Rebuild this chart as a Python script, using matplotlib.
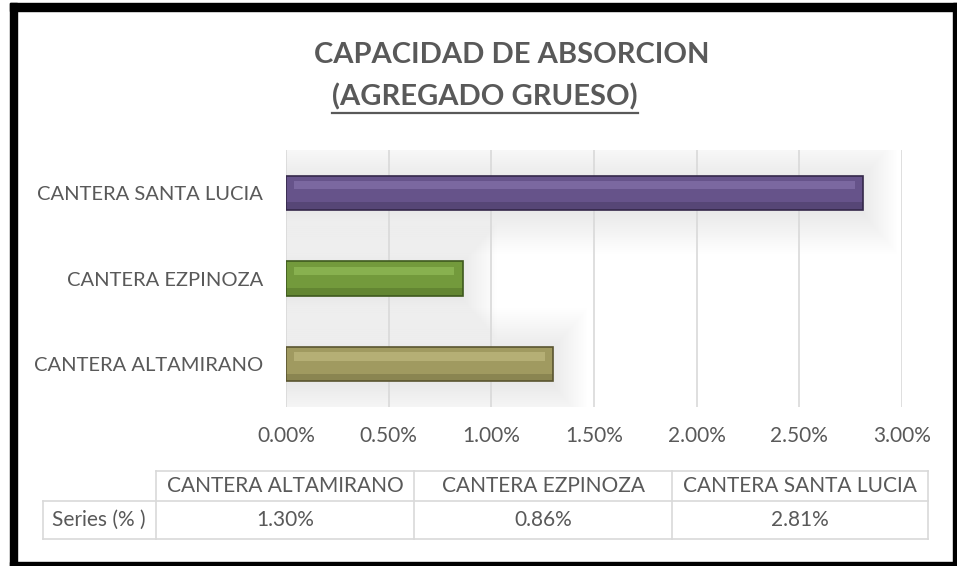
import matplotlib
matplotlib.use("Agg")
import matplotlib.pyplot as plt
from matplotlib.patches import Rectangle
from matplotlib.lines import Line2D
from matplotlib.ticker import FuncFormatter

plt.rcParams["font.family"] = ["Lato", "DejaVu Sans"]

categories = ["CANTERA ALTAMIRANO", "CANTERA EZPINOZA", "CANTERA SANTA LUCIA"]
values = [1.30, 0.86, 2.81]
value_labels = ["1.30%", "0.86%", "2.81%"]
series_name = "Series (% )"
title_1 = "CAPACIDAD DE ABSORCION"
title_2 = "(AGREGADO GRUESO)"

main_colors = ["#a09a60", "#739a3c", "#66538a"]
light_colors = ["#d0c98f", "#a2cf68", "#9582bd"]
dark_colors = ["#5a5530", "#3f5a1e", "#34284a"]

W, H = 957, 566
TXT = "#595959"
GRID = "#d9d9d9"

fig = plt.figure(figsize=(W / 100, H / 100), dpi=100)


def fx(px):
    return px / W


def fy(py):
    return 1 - py / H


# plot area
ax = fig.add_axes([fx(286), fy(407), fx(902) - fx(286), fy(150) - fy(407)])
ypos = list(range(len(categories)))

# soft shadow behind the bars
n = 22
for k in range(n):
    ax.barh([y - 0.03 for y in ypos], [v + 0.008 * k for v in values],
            height=0.42 + 0.045 * k, left=0, color="#808080",
            alpha=0.009, zorder=0.5, linewidth=0)

ax.barh(ypos, values, height=0.4, color=main_colors, edgecolor=dark_colors,
        linewidth=1.2, zorder=3)
ax.barh([y + 0.09 for y in ypos], [v - 0.08 for v in values], height=0.1,
        left=0.04, color=light_colors, alpha=0.45, zorder=4, linewidth=0)
ax.barh([y - 0.155 for y in ypos], values, height=0.09, color=dark_colors,
        alpha=0.3, zorder=4, linewidth=0)

ax.set_xlim(0, 3.0)
ax.set_ylim(-0.5, 2.5)
ax.set_xticks([0, 0.5, 1.0, 1.5, 2.0, 2.5, 3.0])
ax.xaxis.set_major_formatter(FuncFormatter(lambda v, p: f"{v:.2f}%"))
ax.set_yticks(ypos)
ax.set_yticklabels(categories)
ax.grid(axis="x", color=GRID, linewidth=1.2, zorder=1)
ax.set_axisbelow(True)
for s in ax.spines.values():
    s.set_visible(False)
ax.tick_params(axis="both", length=0, colors=TXT)
ax.tick_params(axis="x", pad=14, labelsize=15)
ax.tick_params(axis="y", pad=16.5, labelsize=14.5)

# title
t1 = fig.text(fx(512), fy(63), title_1, ha="center", va="baseline",
              fontsize=21, fontweight="bold", color=TXT)
t2 = fig.text(fx(485), fy(105), title_2, ha="center", va="baseline",
              fontsize=21, fontweight="bold", color=TXT)
fig.canvas.draw()
bb = t2.get_window_extent()
fig.add_artist(Line2D([bb.x0 / W, bb.x1 / W], [fy(113), fy(113)],
                      color=TXT, linewidth=1.6))

# data table under the chart
col_edges = [156, 414, 672, 928]
row_top, row_mid, row_bot = 471, 501, 539
lw = 1.2
fig.add_artist(Line2D([fx(156), fx(928)], [fy(row_top)] * 2, color=GRID, lw=lw))
fig.add_artist(Line2D([fx(43), fx(928)], [fy(row_mid)] * 2, color=GRID, lw=lw))
fig.add_artist(Line2D([fx(43), fx(928)], [fy(row_bot)] * 2, color=GRID, lw=lw))
fig.add_artist(Line2D([fx(43)] * 2, [fy(row_mid), fy(row_bot)], color=GRID, lw=lw))
for xe in col_edges:
    fig.add_artist(Line2D([fx(xe)] * 2, [fy(row_top), fy(row_bot)], color=GRID, lw=lw))
for i, (cat, lab) in enumerate(zip(categories, value_labels)):
    cx = (col_edges[i] + col_edges[i + 1]) / 2
    fig.text(fx(cx), fy((row_top + row_mid) / 2), cat, ha="center",
             va="center", fontsize=15, color=TXT)
    fig.text(fx(cx), fy((row_mid + row_bot) / 2), lab, ha="center",
             va="center", fontsize=15, color=TXT)
fig.text(fx(99), fy((row_mid + row_bot) / 2), series_name, ha="center",
         va="center", fontsize=15, color=TXT)

# black outer frame
for x0, y0, w, h in [(10, 3, 947, 8), (10, 3, 7, 563), (953, 3, 4, 563),
                     (10, 562, 947, 4)]:
    fig.add_artist(Rectangle((fx(x0), fy(y0 + h)), w / W, h / H,
                             transform=fig.transFigure, color="black"))

fig.savefig("out.png", dpi=100)
